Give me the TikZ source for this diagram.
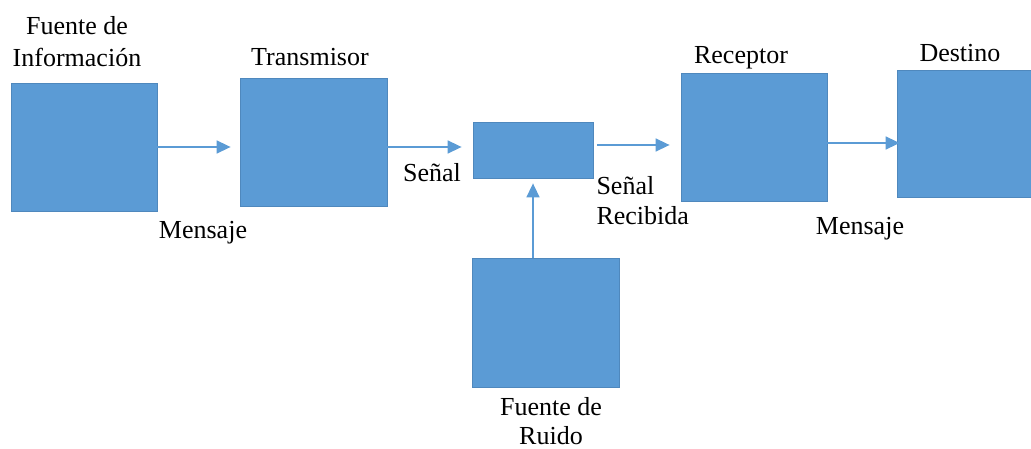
\documentclass[tikz,border=0pt]{standalone}
\usepackage{fontspec}
\setmainfont{Liberation Serif}
\usetikzlibrary{arrows.meta}
\definecolor{azul}{HTML}{5B9BD5}
\definecolor{borde}{HTML}{4F88BD}

\begin{document}
\begin{tikzpicture}[x=1pt, y=-1pt, every node/.style={font=\fontsize{26}{30}\selectfont},
  bloque/.style={draw=borde, fill=azul, line width=0.8pt, inner sep=0pt, minimum width=146pt, minimum height=128pt},
  flecha/.style={draw=azul, line width=1.5pt, -{Triangle[length=14pt,width=13pt]}}]
\useasboundingbox (0,0) rectangle (1031,449);
% los bloques
\node[bloque] (F) at (84,147) {};
\node[bloque, minimum width=147pt] (T) at (313.5,142) {};
\node[bloque, minimum width=120pt, minimum height=56pt] (C) at (533,150) {};
\node[bloque] (R) at (754,137) {};
\node[bloque, minimum width=134pt, minimum height=127pt] (D) at (964,133.5) {};
\node[bloque, minimum width=147pt, minimum height=129pt] (N) at (545.5,322.5) {};
% los textos
\node[align=center, font=\fontsize{26}{32}\selectfont] (tF) at (77,42) {Fuente de\\Información};
\node (tT) at (310,57) {Transmisor};
\node (m1) at (203,233) {Mensaje};
\node (s1) at (432,173) {Señal};
\node[align=left, anchor=west] (s2) at (593,201) {Señal\\Recibida};
\node (tR) at (741,58) {Receptor};
\node (tD) at (960,53) {Destino};
\node (m2) at (860,229) {Mensaje};
\node[align=center, inner sep=1pt, font=\fontsize{26}{29}\selectfont] (tN) at (551,421) {Fuente de\\Ruido};
% las flechas
\draw[flecha] (F.east) -- ([xshift=-9pt]F.east -| T.west);
\draw[flecha] ([yshift=-5pt]T.east) -- ([xshift=-11pt,yshift=-5pt]T.east -| C.west);
\draw[flecha] ([xshift=4pt,yshift=5pt]C.east) -- ([xshift=-11pt,yshift=5pt]C.east -| R.west);
\draw[flecha] ([yshift=-6pt]R.east) -- ([xshift=3pt,yshift=-6pt]R.east -| D.west);
\draw[flecha] (C.south |- N.north) -- ([yshift=-5pt]C.south);
\end{tikzpicture}
\end{document}
